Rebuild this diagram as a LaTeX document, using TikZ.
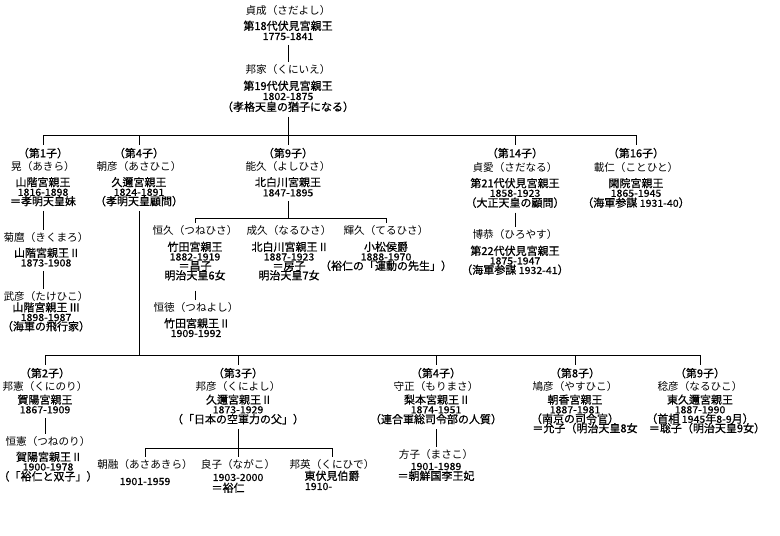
\documentclass[tikz,border=0pt]{standalone}
\usepackage{fontspec}
\newfontfamily\jp{Noto Sans CJK JP}
\newfontfamily\jpb{Noto Sans CJK JP}[FakeBold=0.8]
\newfontfamily\jpd{Noto Sans CJK JP}[FakeBold=0.6,FakeStretch=1.08]
\newcommand\nm[1]{{\jp\fontsize{10.6}{9.5}\selectfont #1}}
\newcommand\dt[1]{{\jpd\fontsize{9.8}{9.5}\selectfont #1}}
\newcommand\bodyfont{\jpb\fontsize{11}{9.5}\selectfont\lineskiplimit=-50pt\relax\lineskip=0pt\relax}
\tikzset{
  person/.style={anchor=north, align=center, inner sep=0pt, font=\bodyfont},
  link/.style={line width=0.9pt, shorten <=4.5pt, shorten >=3pt},
  tick/.style={line width=0.9pt, shorten >=2.5pt},
  bar/.style={line width=0.9pt},
}
\begin{document}
\begin{tikzpicture}[x=1pt,y=-1pt]
\fill[white] (0,0) rectangle (780,536);
\useasboundingbox (0,0) rectangle (780,536);

% generations 1-2
\node[person] (sadayoshi) at (288,5.7) {\nm{貞成（さだよし）}\\[5.5pt]第18代伏見宮親王\\[0.5pt]\dt{1775-1841}};
\node[person] (kuniie) at (288,64.7) {\nm{邦家（くにいえ）}\\[6.5pt]第19代伏見宮親王\\[0.5pt]\dt{1802-1875}\\[1.5pt]（孝格天皇の猶子になる）};

% generation 3 (upper)
\node[person] (akira) at (43,147.7) {（第1子）\\[4pt]\nm{晃（あきら）}\\[6pt]山階宮親王\\\dt{1816-1898}\\＝孝明天皇妹};
\node[person] (asahiko) at (139,147.7) {（第4子）\\[4pt]\nm{朝彦（あさひこ）}\\[6pt]久邇宮親王\\\dt{1824-1891}\\（孝明天皇顧問）};
\node[person] (yoshihisa) at (288,147.7) {（第9子）\\[4pt]\nm{能久（よしひさ）}\\[6pt]北白川宮親王\\[0.5pt]\dt{1847-1895}};
\node[person] (sadanaru) at (515,147.7) {（第14子）\\[4.5pt]\nm{貞愛（さだなる）}\\[6.5pt]第21代伏見宮親王\\\dt{1858-1923}\\[0.5pt]（大正天皇の顧問）};
\node[person] (kotohito) at (636,147.7) {（第16子）\\[4.5pt]\nm{載仁（ことひと）}\\[6.5pt]閑院宮親王\\\dt{1865-1945}\\[0.5pt]（海軍参謀 \dt{1931-40}）};

% descendants of akira
\node[person] (kikumaro) at (46,232.7) {\nm{菊麿（きくまろ）}\\[5.5pt]山階宮親王 II\\\dt{1873-1908}};
\node[person] (takehiko) at (46,291.7) {\nm{武彦（たけひこ）}\\[1pt]山階宮親王 III\\\dt{1898-1987}\\（海軍の飛行家）};

% children of yoshihisa
\node[person] (tsunehisa) at (195,225.7) {\nm{恒久（つねひさ）}\\[6.5pt]竹田宮親王\hspace*{16pt}\\\dt{1882-1919}\hspace*{16pt}\\＝昌子\hspace*{28pt}\\明治天皇6女};
\node[person] (naruhisa) at (289,225.7) {\nm{成久（なるひさ）}\\[6.5pt]北白川宮親王 II\\\dt{1887-1923}\hspace*{20pt}\\＝房子\hspace*{30pt}\\明治天皇7女};
\node[person] (teruhisa) at (386,225.7) {\nm{輝久（てるひさ）}\\[6.5pt]小松侯爵\hspace*{30pt}\\\dt{1888-1970}\hspace*{26pt}\\（裕仁の「運動の先生」）};
\node[person] (tsuneyoshi) at (196,302.7) {\nm{恒徳（つねよし）}\\[6pt]竹田宮親王 II\\\dt{1909-1992}};

% son of sadanaru
\node[person] (hiroyasu) at (515,229.7) {\nm{博恭（ひろやす）}\\[6.5pt]第22代伏見宮親王\\\dt{1875-1947}\\（海軍参謀 \dt{1932-41}）};

% generation 3 (lower)
\node[person] (kuninori) at (45,367.7) {（第2子）\\[4pt]\nm{邦憲（くにのり）}\\[3.5pt]賀陽宮親王\\\dt{1867-1909}};
\node[person] (kuniyoshi) at (238,367.7) {（第3子）\\[4pt]\nm{邦彦（くによし）}\\[3.5pt]久邇宮親王 II\\\dt{1873-1929}\\[0.5pt]（「日本の空軍力の父」）};
\node[person] (morimasa) at (436,367.7) {（第4子）\\[4pt]\nm{守正（もりまさ）}\\[3.5pt]梨本宮親王 II\\\dt{1874-1951}\\[0.5pt]（連合軍総司令部の人質）};
\node[person] (yasuhiko) at (575,367.7) {（第8子）\\[4pt]\nm{鳩彦（やすひこ）}\\[3.5pt]朝香宮親王\\\dt{1887-1981}\\[0pt]（南京の司令官）\\[0pt]\hspace*{20pt}＝允子（明治天皇8女};
\node[person] (naruhiko) at (700,367.7) {（第9子）\\[4pt]\nm{稔彦（なるひこ）}\\[3.5pt]東久邇宮親王\\\dt{1887-1990}\\[0pt]（首相 \dt{1945}年\dt{8-9}月）\\[0pt]\hspace*{14pt}＝聡子（明治天皇9女）};

% next generation (lower)
\node[person] (tsunenori) at (48,436.7) {\nm{恒憲（つねのり）}\\[5.5pt]賀陽宮親王 II\\\dt{1900-1978}\\[0.5pt]（「裕仁と双子」）};
\node[person] (asaakira) at (145,459.7) {\nm{朝融（あさあきら）}\\[6.5pt]\dt{1901-1959}};
\node[person] (nagako) at (238,459.7) {\nm{良子（ながこ）}\\[2.5pt]\dt{1903-2000}\\[1.5pt]＝裕仁\hspace*{20pt}};
\node[person] (kunihide) at (332,459.7) {\nm{邦英（くにひで）}\\[1.5pt]東伏見伯爵\\[0.5pt]\dt{1910-}\hspace*{27pt}};
\node[person] (masako) at (436,449.7) {\nm{方子（まさこ）}\\[1.5pt]\dt{1901-1989}\\[0.5pt]＝朝鮮国李王妃};

% connectors
\draw[link] (sadayoshi) -- (kuniie);
\coordinate (b1) at (288,135);
\draw[link, shorten >=0pt] (kuniie) -- (b1);
\draw[bar] (akira.north |- b1) -- (kotohito.north |- b1);
\foreach \n in {akira,asahiko,yoshihisa,sadanaru,kotohito}
  \draw[tick] (\n.north |- b1) -- (\n.north);

\draw[link] (akira.south) -- (akira.south |- kikumaro.north);
\draw[link] (akira.south |- kikumaro.south) -- (akira.south |- takehiko.north);

\coordinate (b4) at (288,218);
\draw[link, shorten >=0pt] (yoshihisa) -- (b4);
\draw[bar] (tsunehisa.north |- b4) -- (teruhisa.north |- b4);
\foreach \n in {tsunehisa,teruhisa}
  \draw[tick] (\n.north |- b4) -- (\n.north);
\draw[link, shorten <=10pt] (tsunehisa.south) -- (tsunehisa.south |- tsuneyoshi.north);

\draw[link] (sadanaru) -- (hiroyasu);

\coordinate (b2) at (139,355);
\draw[link, shorten >=0pt] (asahiko) -- (b2);
\draw[bar] (kuninori.north |- b2) -- (naruhiko.north |- b2);
\foreach \n in {kuninori,kuniyoshi,morimasa,yasuhiko,naruhiko}
  \draw[tick] (\n.north |- b2) -- (\n.north);

\draw[link] (kuninori.south) -- (kuninori.south |- tsunenori.north);

\coordinate (b3) at (238,448);
\draw[link, shorten >=0pt] (kuniyoshi) -- (b3);
\draw[bar] (asaakira.north |- b3) -- (kunihide.north |- b3);
\foreach \n in {asaakira,nagako,kunihide}
  \draw[tick] (\n.north |- b3) -- (\n.north);

\draw[link] (morimasa) -- (masako);
\end{tikzpicture}
\end{document}
